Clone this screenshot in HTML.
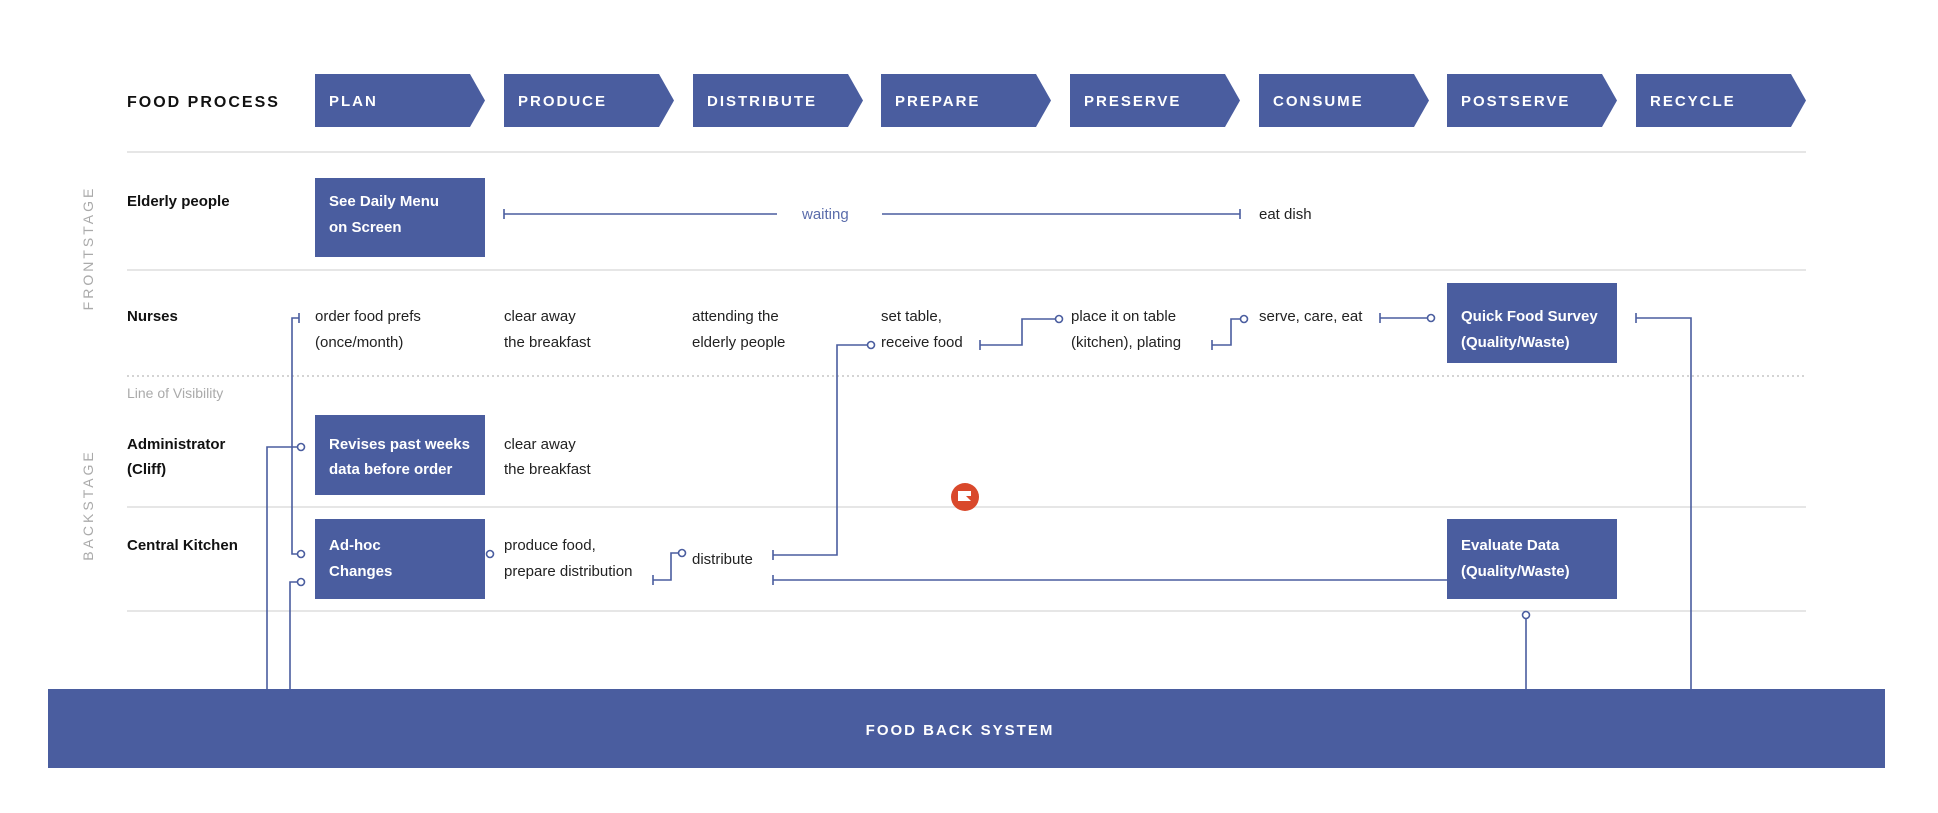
<!DOCTYPE html>
<html><head><meta charset="utf-8"><style>
body{margin:0;background:#fff}
svg{display:block}
text{font-family:"Liberation Sans",sans-serif}
.t{font-size:15px;fill:#222}
.w{font-size:15px;fill:#fff;font-weight:bold}
.h{font-size:15px;fill:#fff;font-weight:bold;letter-spacing:2px}
.l{font-size:15px;fill:#111;font-weight:bold}
</style></head><body>
<svg width="1938" height="813" viewBox="0 0 1938 813">
<g fill="#4a5d9f">
<polygon points="315,74 470,74 485,100.5 470,127 315,127"/>
<polygon points="504,74 659,74 674,100.5 659,127 504,127"/>
<polygon points="693,74 848,74 863,100.5 848,127 693,127"/>
<polygon points="881,74 1036,74 1051,100.5 1036,127 881,127"/>
<polygon points="1070,74 1225,74 1240,100.5 1225,127 1070,127"/>
<polygon points="1259,74 1414,74 1429,100.5 1414,127 1259,127"/>
<polygon points="1447,74 1602,74 1617,100.5 1602,127 1447,127"/>
<polygon points="1636,74 1791,74 1806,100.5 1791,127 1636,127"/>
<rect x="315" y="178" width="170" height="79"/>
<rect x="315" y="415" width="170" height="80"/>
<rect x="315" y="519" width="170" height="80"/>
<rect x="1447" y="283" width="170" height="80"/>
<rect x="1447" y="519" width="170" height="80"/>
<rect x="48" y="689" width="1837" height="79"/>
</g>
<text x="127" y="107" font-size="16" font-weight="bold" letter-spacing="2" fill="#111">FOOD PROCESS</text>
<g class="h">
<text x="329" y="106">PLAN</text><text x="518" y="106">PRODUCE</text><text x="707" y="106">DISTRIBUTE</text>
<text x="895" y="106">PREPARE</text><text x="1084" y="106">PRESERVE</text><text x="1273" y="106">CONSUME</text>
<text x="1461" y="106">POSTSERVE</text><text x="1650" y="106">RECYCLE</text>
</g>
<g stroke="#e6e6e6" stroke-width="2">
<line x1="127" y1="152" x2="1806" y2="152"/><line x1="127" y1="270" x2="1806" y2="270"/>
<line x1="127" y1="507" x2="1806" y2="507"/><line x1="127" y1="611" x2="1806" y2="611"/>
</g>
<line x1="127" y1="376" x2="1806" y2="376" stroke="#bbb" stroke-width="1.2" stroke-dasharray="2,3"/>
<text x="127" y="398" font-size="14" fill="#aaa">Line of Visibility</text>
<text transform="translate(93,248) rotate(-90)" text-anchor="middle" font-size="14" letter-spacing="3" fill="#aaa">FRONTSTAGE</text>
<text transform="translate(93,505) rotate(-90)" text-anchor="middle" font-size="14" letter-spacing="3" fill="#aaa">BACKSTAGE</text>
<g class="l">
<text x="127" y="206">Elderly people</text><text x="127" y="321">Nurses</text>
<text x="127" y="449">Administrator</text><text x="127" y="474">(Cliff)</text>
<text x="127" y="550">Central Kitchen</text>
</g>
<g class="w">
<text x="329" y="206">See Daily Menu</text><text x="329" y="232">on Screen</text>
<text x="329" y="449">Revises past weeks</text><text x="329" y="474">data before order</text>
<text x="329" y="550">Ad-hoc</text><text x="329" y="576">Changes</text>
<text x="1461" y="321">Quick Food Survey</text><text x="1461" y="347">(Quality/Waste)</text>
<text x="1461" y="550">Evaluate Data</text><text x="1461" y="576">(Quality/Waste)</text>
</g>
<g class="t">
<text x="802" y="219" fill="#5a6cab" style="fill:#5a6cab">waiting</text>
<text x="1259" y="219">eat dish</text>
<text x="315" y="321">order food prefs</text><text x="315" y="347">(once/month)</text>
<text x="504" y="321">clear away</text><text x="504" y="347">the breakfast</text>
<text x="692" y="321">attending the</text><text x="692" y="347">elderly people</text>
<text x="881" y="321">set table,</text><text x="881" y="347">receive food</text>
<text x="1071" y="321">place it on table</text><text x="1071" y="347">(kitchen), plating</text>
<text x="1259" y="321">serve, care, eat</text>
<text x="504" y="449">clear away</text><text x="504" y="474">the breakfast</text>
<text x="504" y="550">produce food,</text><text x="504" y="576">prepare distribution</text>
<text x="692" y="564">distribute</text>
</g>
<text x="960" y="735" text-anchor="middle" font-size="15" font-weight="bold" letter-spacing="2" fill="#fff">FOOD BACK SYSTEM</text>
<g stroke="#4a5d9f" stroke-width="1.6" fill="none">
<path d="M504,214 H777 M882,214 H1240 M504,209 V219 M1240,209 V219"/>
<path d="M299,318 H292 V554 H298 M299,313 V323"/>
<path d="M298,582 H290 V689"/>
<path d="M298,447 H267 V689"/>
<path d="M867,345 H837 V555 H773 M773,550 V560"/>
<path d="M773,580 H1447 M773,575 V585"/>
<path d="M980,345 H1022 V319 H1055 M980,340 V350"/>
<path d="M1212,345 H1231 V319 H1240 M1212,340 V350"/>
<path d="M1380,318 H1427 M1380,313 V323"/>
<path d="M1636,318 H1691 V689 M1636,313 V323"/>
<path d="M653,580 H671 V553 H678 M653,575 V585"/>
<path d="M1526,619 V689"/>
</g>
<g stroke="#4a5d9f" stroke-width="1.6" fill="#fff">
<circle cx="301" cy="447" r="3.5"/><circle cx="301" cy="554" r="3.5"/><circle cx="301" cy="582" r="3.5"/>
<circle cx="490" cy="554" r="3.5"/><circle cx="682" cy="553" r="3.5"/><circle cx="871" cy="345" r="3.5"/>
<circle cx="1059" cy="319" r="3.5"/><circle cx="1244" cy="319" r="3.5"/><circle cx="1431" cy="318" r="3.5"/>
<circle cx="1526" cy="615" r="3.5"/>
</g>
<circle cx="965" cy="497" r="14" fill="#d9482b"/>
<rect x="958" y="491" width="13" height="10" fill="#fff"/>
<path d="M966,496 h5 v5 z" fill="#d9482b"/>
</svg>
</body></html>
